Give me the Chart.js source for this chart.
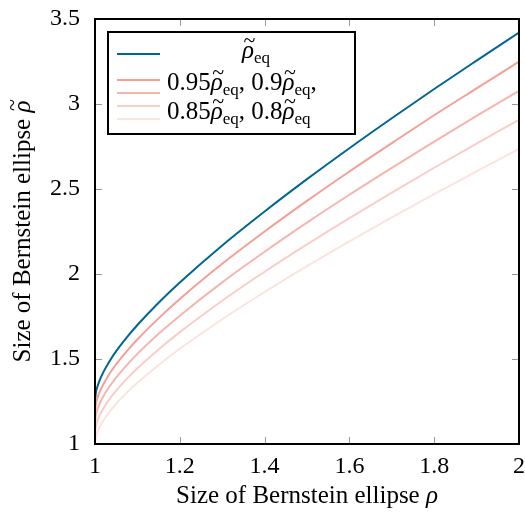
<!DOCTYPE html>
<html>
<head>
<meta charset="utf-8">
<script src="https://cdn.jsdelivr.net/npm/chart.js@4.4.1/dist/chart.umd.min.js"></script>
<style>
  html, body { margin: 0; padding: 0; background: #fff; }
  #wrap { width: 525px; height: 514px; }
</style>
</head>
<body>
<div id="wrap"><canvas id="ellipseChart" width="525" height="514"></canvas></div>
<script>
// Bernstein ellipse sizes: rho on the x axis, rho-tilde and its scaled versions on y
const rhoValues = [1, 1.002, 1.005, 1.01, 1.02, 1.035, 1.05, 1.075, 1.1, 1.15, 1.2, 1.3, 1.4, 1.5, 1.6, 1.7, 1.8, 1.9, 2];
const rhoEq   = [1.250, 1.300, 1.332, 1.369, 1.424, 1.490, 1.546, 1.627, 1.700, 1.831, 1.950, 2.168, 2.368, 2.558, 2.740, 2.916, 3.088, 3.255, 3.420];
const rhoEq95 = [1.188, 1.235, 1.265, 1.301, 1.353, 1.416, 1.469, 1.546, 1.615, 1.739, 1.853, 2.060, 2.250, 2.430, 2.603, 2.770, 2.934, 3.092, 3.249];
const rhoEq90 = [1.125, 1.170, 1.199, 1.232, 1.282, 1.341, 1.391, 1.464, 1.530, 1.648, 1.755, 1.951, 2.131, 2.302, 2.466, 2.624, 2.779, 2.930, 3.078];
const rhoEq85 = [1.063, 1.105, 1.132, 1.164, 1.210, 1.267, 1.314, 1.383, 1.445, 1.556, 1.658, 1.843, 2.013, 2.174, 2.329, 2.479, 2.625, 2.767, 2.907];
const rhoEq80 = [1.000, 1.040, 1.066, 1.095, 1.139, 1.192, 1.237, 1.302, 1.360, 1.465, 1.560, 1.734, 1.894, 2.046, 2.192, 2.333, 2.470, 2.604, 2.736];

const xTicks = [1, 1.2, 1.4, 1.6, 1.8, 2];
const yTicks = [1, 1.5, 2, 2.5, 3, 3.5];

const SERIF = '"Liberation Serif", "DejaVu Serif", serif';
const RM = '25px ' + SERIF;
const IT = 'italic 25px ' + SERIF;
const SUB = '17px ' + SERIF;

const toPoints = ys => rhoValues.map((x, i) => ({ x, y: ys[i] }));

function line(label, ys, color) {
  return {
    label,
    data: toPoints(ys),
    borderColor: color,
    borderWidth: 2,
    pointRadius: 0,
    cubicInterpolationMode: "monotone",
    fill: false
  };
}

// draws a row of text pieces with different fonts, optional tilde accent
function drawRuns(ctx, runs, x, y, align) {
  let total = 0;
  runs.forEach(r => { ctx.font = r.font; total += ctx.measureText(r.text).width; });
  let cx = align === "center" ? x - total / 2 : x;
  ctx.textAlign = "left";
  ctx.textBaseline = "alphabetic";
  runs.forEach(r => {
    ctx.font = r.font;
    const w = ctx.measureText(r.text).width;
    ctx.fillText(r.text, cx, y + (r.dy || 0));
    if (r.tilde) {
      ctx.font = '22px ' + SERIF;
      const tw = ctx.measureText("~").width;
      ctx.fillText("~", cx + w / 2 - tw / 2 + 1.5, y - 11);
    }
    cx += w;
  });
}

const rhoTilde = (prefix, suffix) => [
  { text: prefix, font: RM },
  { text: "ρ", font: IT, tilde: true },
  { text: "eq", font: SUB, dy: 5 },
  { text: suffix, font: RM }
];

const framePlugin = {
  id: "framePlugin",
  afterDraw(chart) {
    const ctx = chart.ctx;
    const a = chart.chartArea;
    const xs = chart.scales.x, ys = chart.scales.y;
    ctx.save();

    // inward ticks on all four sides
    ctx.strokeStyle = "#999";
    ctx.lineWidth = 1;
    ctx.beginPath();
    xTicks.forEach(v => {
      const px = Math.round(xs.getPixelForValue(v)) + 0.5;
      ctx.moveTo(px, a.bottom); ctx.lineTo(px, a.bottom - 7);
      ctx.moveTo(px, a.top); ctx.lineTo(px, a.top + 7);
    });
    yTicks.forEach(v => {
      const py = Math.round(ys.getPixelForValue(v)) + 0.5;
      ctx.moveTo(a.left, py); ctx.lineTo(a.left + 7, py);
      ctx.moveTo(a.right, py); ctx.lineTo(a.right - 7, py);
    });
    ctx.stroke();

    // frame
    ctx.strokeStyle = "#000";
    ctx.lineWidth = 2;
    ctx.strokeRect(a.left, a.top, a.right - a.left, a.bottom - a.top);

    // legend box
    const lx = 108, ly = 32, lw = 247, lh = 102;
    ctx.fillStyle = "#fff";
    ctx.fillRect(lx, ly, lw, lh);
    ctx.strokeRect(lx, ly, lw, lh);
    const rows = [54, 80, 93, 106, 119];
    const order = chart.data.datasets.slice().reverse();
    order.forEach((ds, i) => {
      ctx.strokeStyle = ds.borderColor;
      ctx.lineWidth = 2;
      ctx.beginPath();
      ctx.moveTo(117, rows[i]); ctx.lineTo(160, rows[i]);
      ctx.stroke();
    });
    ctx.fillStyle = "#000";
    drawRuns(ctx, rhoTilde("", ""), 256, 58, "center");
    drawRuns(ctx, rhoTilde("0.95", ", ").concat(rhoTilde("0.9", ",")), 167, 90, "left");
    drawRuns(ctx, rhoTilde("0.85", ", ").concat(rhoTilde("0.8", "")), 167, 119, "left");

    // axis titles
    const midX = (a.left + a.right) / 2;
    drawRuns(ctx, [
      { text: "Size of Bernstein ellipse ", font: RM },
      { text: "ρ", font: IT }
    ], midX, 503, "center");

    ctx.translate(30, (a.top + a.bottom) / 2);
    ctx.rotate(-Math.PI / 2);
    drawRuns(ctx, [
      { text: "Size of Bernstein ellipse ", font: RM },
      { text: "ρ", font: IT, tilde: true }
    ], 0, 0, "center");
    ctx.restore();
  }
};

new Chart(document.getElementById("ellipseChart"), {
  type: "line",
  data: {
    datasets: [
      line("ρ̃eq", rhoEq, "#006693"),
      line("0.95ρ̃eq", rhoEq95, "#f4a096"),
      line("0.9ρ̃eq", rhoEq90, "#f6b5ad"),
      line("0.85ρ̃eq", rhoEq85, "#f9cdc8"),
      line("0.8ρ̃eq", rhoEq80, "#fce3e0")
    ].reverse()
  },
  options: {
    responsive: false,
    animation: false,
    layout: { padding: { top: 19, right: 6, left: 0, bottom: 0 } },
    plugins: { legend: { display: false }, tooltip: { enabled: false } },
    scales: {
      x: {
        type: "linear",
        min: 1, max: 2,
        afterFit: s => { s.height = 70; s.paddingLeft = 0; s.paddingRight = 0; },
        afterBuildTicks: s => { s.ticks = xTicks.map(v => ({ value: v })); },
        grid: { display: false },
        border: { display: false },
        ticks: { color: "#000", font: { family: SERIF, size: 24 }, padding: 0, maxRotation: 0, callback: v => String(v) }
      },
      y: {
        type: "linear",
        min: 1, max: 3.5,
        afterFit: s => { s.width = 95; s.paddingTop = 0; s.paddingBottom = 0; },
        afterBuildTicks: s => { s.ticks = yTicks.map(v => ({ value: v })); },
        grid: { display: false },
        border: { display: false },
        ticks: { color: "#000", font: { family: SERIF, size: 24 }, padding: 7, callback: v => String(v) }
      }
    }
  },
  plugins: [framePlugin]
});
</script>
</body>
</html>
